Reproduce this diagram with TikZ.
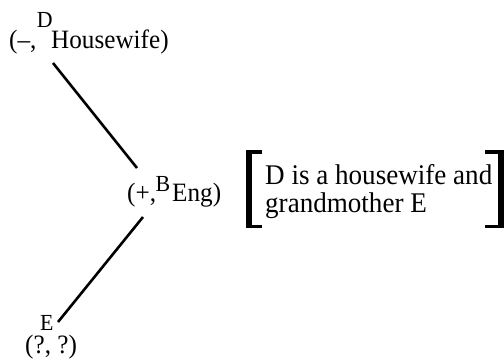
\documentclass[tikz,border=0pt]{standalone}
\usepackage{fontspec}
\setmainfont{Liberation Serif}
\newcommand{\lblfont}{\fontsize{23bp}{25bp}\selectfont}
\newcommand{\toplabel}[3]{\makebox[0pt][l]{\hspace{#1}\raisebox{#2}{\lblfont #3}}}
\newcommand{\narrow}[1]{\scalebox{0.95}[1]{#1}}
\begin{document}
\begin{tikzpicture}[x=1bp,y=-1bp,
  nodetext/.style={anchor=base west,inner sep=0pt,font=\fontsize{26.5bp}{28bp}\selectfont},
  main/.style={anchor=base west,inner sep=0pt,font=\fontsize{28.5bp}{30bp}\selectfont},
  edge/.style={line width=2.6bp,line cap=butt},
  brk/.style={fill=black,draw=none}]
\useasboundingbox (0,0) rectangle (504,360);
% nodes
\node[nodetext] (D) at (9,48) {\narrow{(--,\toplabel{0.5bp}{21bp}{D}\hspace{15.5bp}Housewife)}};
\node[nodetext] (B) at (127,201) {\narrow{(+,\toplabel{-0.5bp}{10bp}{B}\hspace{17bp}Eng)}};
\node[nodetext] (E) at (25,353) {\narrow{\toplabel{15.8bp}{23bp}{E}(?, ?)}};
% connectors
\coordinate (d1) at (53,63);
\coordinate (b1) at (137,168);
\coordinate (b2) at (143,217);
\coordinate (e1) at (58,322);
\draw[edge] (d1) -- (b1);
\draw[edge] (b2) -- (e1);
% bracketed text
\node[main] (t1) at (265,184.5) {\narrow{D is a housewife and}};
\node[main] (t2) at (265,212.5) {\narrow{grandmother E}};
\fill[brk] (245.5,150) rectangle (251.5,228);
\fill[brk] (245.5,150) rectangle (262,153.5);
\fill[brk] (245.5,224.5) rectangle (262,228);
\fill[brk] (497.5,150) rectangle (503.5,228);
\fill[brk] (485,150) rectangle (503.5,153.5);
\fill[brk] (485,224.5) rectangle (503.5,228);
\end{tikzpicture}
\end{document}
